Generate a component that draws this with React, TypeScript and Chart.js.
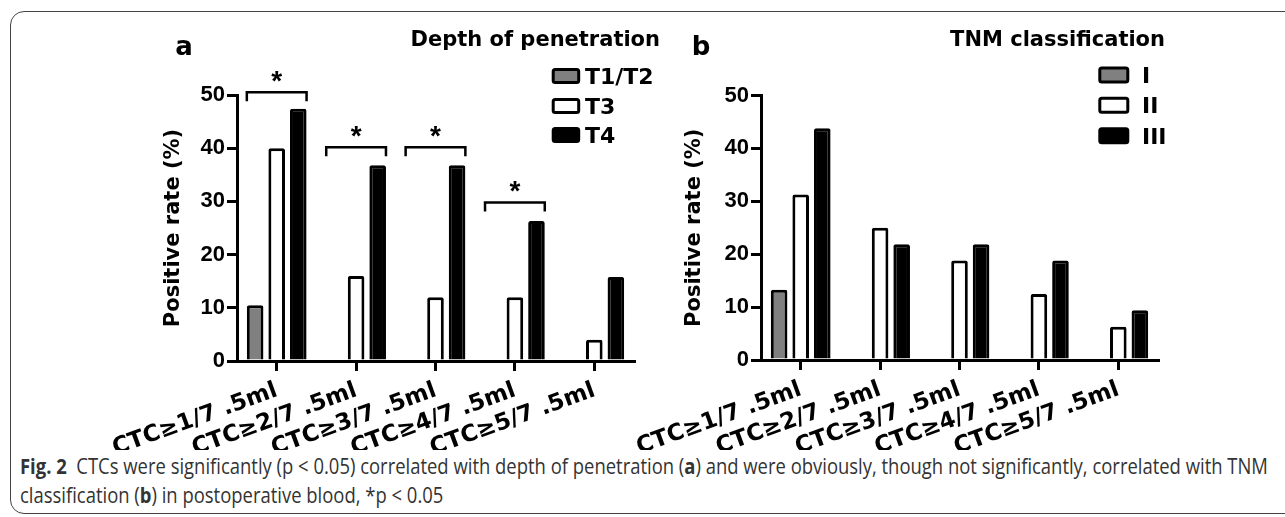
import React, { useEffect, useLayoutEffect, useRef } from 'react';
import { Chart, registerables } from 'chart.js';

Chart.register(...registerables);

// ---------------- data ----------------
const categories = ['CTC≥1/7 .5ml', 'CTC≥2/7 .5ml', 'CTC≥3/7 .5ml', 'CTC≥4/7 .5ml', 'CTC≥5/7 .5ml'];
const yMin = 0;
const yMax = 50;
const yStep = 10;
const yTitle = 'Positive rate (%)';

const depthNames = ['T1/T2', 'T3', 'T4'];
const depthT1T2 = [10.5, 0, 0, 0, 0];
const depthT3 = [40, 16, 12, 12, 4];
const depthT4 = [47.4, 36.8, 36.8, 26.3, 15.8];
const depthSigLevels: (number | null)[] = [50.5, 40.2, 40.2, 29.8, null];

const tnmNames = ['I', 'II', 'III'];
const tnmI = [13.3, 0, 0, 0, 0];
const tnmII = [31.3, 25, 18.8, 12.5, 6.3];
const tnmIII = [43.8, 21.9, 21.9, 18.8, 9.4];
const tnmSigLevels: (number | null)[] = [null, null, null, null, null];

const seriesFill = ['#808080', '#ffffff', '#000000'];

// ---------------- decoration plugin ----------------
function roundRectPath(ctx: CanvasRenderingContext2D, x: number, y: number, w: number, h: number, r: number) {
  ctx.beginPath();
  ctx.moveTo(x + r, y);
  ctx.lineTo(x + w - r, y);
  ctx.arcTo(x + w, y, x + w, y + r, r);
  ctx.lineTo(x + w, y + h - r);
  ctx.arcTo(x + w, y + h, x + w - r, y + h, r);
  ctx.lineTo(x + r, y + h);
  ctx.arcTo(x, y + h, x, y + h - r, r);
  ctx.lineTo(x, y + r);
  ctx.arcTo(x, y, x + r, y, r);
  ctx.closePath();
}

const decorPlugin = {
  id: 'panelDecor',
  afterDraw(chart: any, _args: any, o: any) {
    const ctx: CanvasRenderingContext2D = chart.ctx;
    ctx.save();
    ctx.fillStyle = '#000';
    ctx.textBaseline = 'alphabetic';

    // panel letter
    ctx.font = 'bold 26px "DejaVu Sans"';
    ctx.textAlign = 'center';
    ctx.fillText(o.letter, o.letterX, o.letterBaseline);

    // panel title
    ctx.font = 'bold 21px "DejaVu Sans"';
    ctx.textAlign = 'right';
    ctx.fillText(o.title, o.titleRight, o.titleBaseline);

    // legend
    ctx.font = `bold ${o.legendFont}px "DejaVu Sans"`;
    ctx.textAlign = 'left';
    chart.data.datasets.forEach((d: any, i: number) => {
      const cy = o.legendY[i];
      roundRectPath(ctx, o.boxX + 1.5, cy - o.boxH / 2 + 1.5, o.boxW - 3, o.boxH - 3, 2);
      ctx.fillStyle = d.backgroundColor;
      ctx.fill();
      ctx.lineWidth = 3;
      ctx.strokeStyle = '#000';
      ctx.stroke();
      ctx.fillStyle = '#000';
      ctx.fillText(d.label, o.textX, cy + o.legendFont * 0.729 / 2);
    });

    // significance brackets
    const yScale = chart.scales.y;
    const n = chart.data.datasets.length;
    const m0 = chart.getDatasetMeta(0);
    const mN = chart.getDatasetMeta(n - 1);
    (o.sig || []).forEach((lvl: number | null, i: number) => {
      if (lvl == null) return;
      const b0 = m0.data[i];
      const bN = mN.data[i];
      const x1 = b0.x - b0.width / 2;
      const x2 = bN.x + bN.width / 2;
      const yy = yScale.getPixelForValue(lvl);
      ctx.beginPath();
      ctx.moveTo(x1, yy + 9);
      ctx.lineTo(x1, yy);
      ctx.lineTo(x2, yy);
      ctx.lineTo(x2, yy + 9);
      ctx.lineWidth = 2.5;
      ctx.strokeStyle = '#000';
      ctx.stroke();
      ctx.font = 'bold 28px "Liberation Sans"';
      ctx.textAlign = 'center';
      const mt = ctx.measureText('*');
      const cyA = yy - 15.5;
      ctx.fillText('*', (x1 + x2) / 2, cyA + (mt.actualBoundingBoxAscent - mt.actualBoundingBoxDescent) / 2);
    });
    ctx.restore();
  },
};

// ---------------- panels ----------------
type Spec = {
  left: number; w: number; h: number;
  pad: { left: number; right: number; top: number; bottom: number };
  yWidth: number; xHeight: number;
  names: string[]; series: number[][]; sig: (number | null)[];
  decor: any;
};

const panelA: Spec = {
  left: 0, w: 680, h: 450,
  pad: { left: 161.4, right: 46, top: 95, bottom: 0 },
  yWidth: 75.6, xHeight: 89,
  names: depthNames, series: [depthT1T2, depthT3, depthT4], sig: depthSigLevels,
  decor: {
    letter: 'a', letterX: 184, letterBaseline: 55,
    title: 'Depth of penetration', titleRight: 660, titleBaseline: 46,
    boxX: 551.7, boxW: 28.5, boxH: 16, legendY: [76, 106, 135], textX: 585, legendFont: 22,
  },
};

const panelB: Spec = {
  left: 560, w: 725, h: 450,
  pad: { left: 121.9, right: 127, top: 95.5, bottom: 0 },
  yWidth: 79.1, xHeight: 90,
  names: tnmNames, series: [tnmI, tnmII, tnmIII], sig: tnmSigLevels,
  decor: {
    letter: 'b', letterX: 141, letterBaseline: 55,
    title: 'TNM classification', titleRight: 605, titleBaseline: 46,
    boxX: 538.3, boxW: 31, boxH: 17, legendY: [75, 105.3, 135.8], textX: 582, legendFont: 22,
  },
};

function Panel({ spec }: { spec: Spec }) {
  const ref = useRef<HTMLCanvasElement>(null);
  useEffect(() => {
    const chart = new Chart(ref.current as HTMLCanvasElement, {
      type: 'bar',
      data: {
        labels: categories,
        datasets: spec.series.map((vals, i) => ({
          label: spec.names[i],
          data: vals,
          backgroundColor: seriesFill[i],
          borderColor: '#000',
          borderWidth: 3,
          borderRadius: { topLeft: 2, topRight: 2, bottomLeft: 0, bottomRight: 0 },
          borderSkipped: 'start',
          categoryPercentage: 0.815,
          barPercentage: 0.77,
        })),
      },
      options: {
        responsive: false,
        animation: false,
        layout: { padding: spec.pad },
        plugins: {
          legend: { display: false },
          tooltip: { enabled: false },
          panelDecor: { ...spec.decor, sig: spec.sig },
        } as any,
        scales: {
          x: {
            type: 'category',
            offset: true,
            grid: { display: true, offset: false, drawOnChartArea: false, drawTicks: true, tickLength: 10, color: '#000', lineWidth: 3 },
            border: { display: true, color: '#000', width: 3 },
            ticks: {
              autoSkip: false, minRotation: 20, maxRotation: 20, padding: 6, color: '#000',
              font: { family: '"DejaVu Sans"', weight: 'bold', size: 23 },
            },
            afterFit: (s: any) => { s.height = spec.xHeight; s.paddingLeft = 0; s.paddingRight = 0; },
          },
          y: {
            min: yMin, max: yMax,
            ticks: { stepSize: yStep, padding: 2, color: '#000', font: { family: '"Liberation Sans"', weight: 'bold', size: 22 } },
            grid: { display: true, drawOnChartArea: false, drawTicks: true, tickLength: 10, color: '#000', lineWidth: 3 },
            border: { display: true, color: '#000', width: 3 },
            title: {
              display: true, text: yTitle, color: '#000', padding: 0,
              font: { family: '"DejaVu Sans"', weight: 'bold', size: 21, lineHeight: 1.2 },
            },
            afterFit: (s: any) => { s.width = spec.yWidth; s.paddingTop = 0; s.paddingBottom = 0; },
          },
        } as any,
      },
      plugins: [decorPlugin as any],
    });
    return () => chart.destroy();
  }, []);
  return (
    <canvas
      ref={ref}
      width={spec.w}
      height={spec.h}
      style={{ position: 'absolute', left: spec.left, top: 0, width: spec.w, height: spec.h }}
    />
  );
}

function Caption() {
  const ref = useRef<HTMLDivElement>(null);
  const line1 = useRef<HTMLDivElement>(null);
  useLayoutEffect(() => {
    const fit = () => {
      if (!ref.current || !line1.current) return;
      ref.current.style.transform = 'none';
      const w = line1.current.scrollWidth;
      ref.current.style.transform = `scaleX(${1248 / w})`;
    };
    fit();
    if ((document as any).fonts && (document as any).fonts.ready) {
      (document as any).fonts.ready.then(fit);
    }
  }, []);
  return (
    <div
      ref={ref}
      style={{
        position: 'absolute', left: 20, top: 452, fontFamily: '"Open Sans", sans-serif', fontSize: 21,
        lineHeight: '29px', color: '#333', whiteSpace: 'nowrap', transformOrigin: 'left top',
      }}
    >
      <div ref={line1} style={{ display: 'inline-block' }}>
        <b>Fig. 2</b>&nbsp;&nbsp;CTCs were significantly (p &lt; 0.05) correlated with depth of penetration (<b>a</b>) and were obviously, though not significantly, correlated with TNM
      </div>
      <div>
        classification (<b>b</b>) in postoperative blood, *p &lt; 0.05
      </div>
    </div>
  );
}

export default function App() {
  return (
    <div style={{ position: 'absolute', left: 0, top: 0, width: 1285, height: 517, overflow: 'hidden', background: '#fff' }}>
      <div
        style={{
          position: 'absolute', left: 10, top: 11, width: 1320, height: 503,
          border: '1px solid #444', borderRadius: 14, boxSizing: 'border-box',
        }}
      />
      <Panel spec={panelA} />
      <Panel spec={panelB} />
      <Caption />
    </div>
  );
}
